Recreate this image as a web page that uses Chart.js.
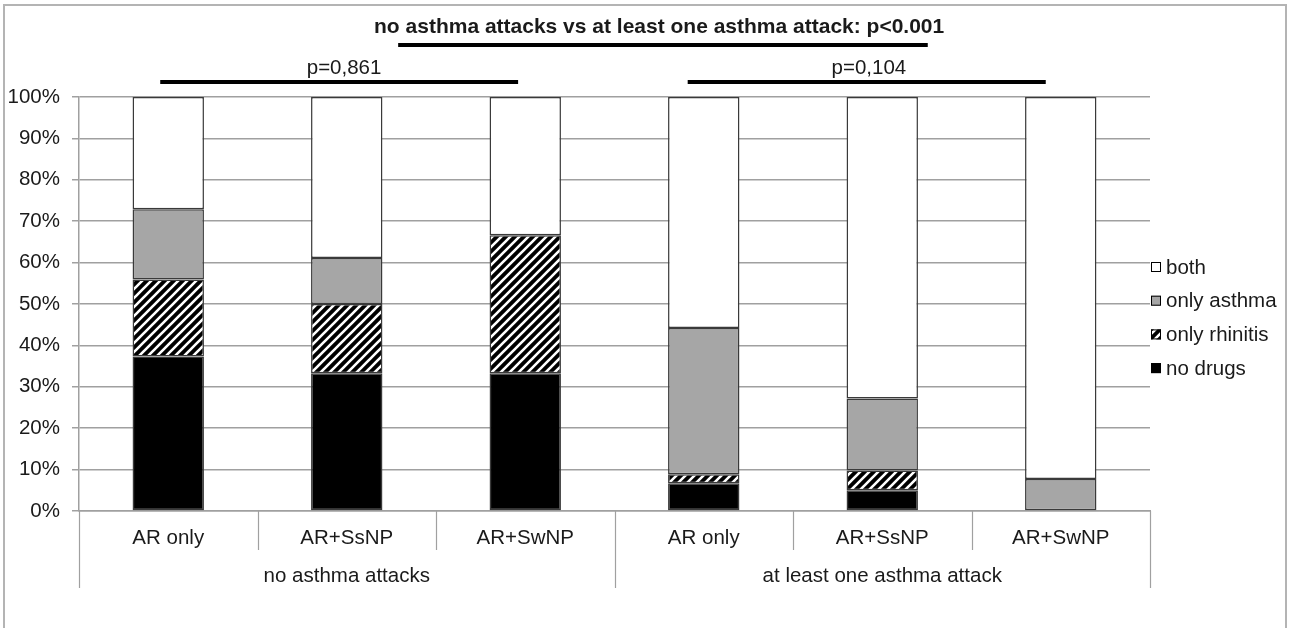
<!DOCTYPE html>
<html>
<head>
<meta charset="utf-8">
<script src="https://cdn.jsdelivr.net/npm/chart.js@4/dist/chart.umd.min.js"></script>
<style>
  html, body { margin: 0; padding: 0; background: #fff; }
  #wrap { width: 1290px; height: 628px; position: relative; }
</style>
</head>
<body>
<div id="wrap"><canvas id="chart"></canvas></div>
<script>
const categories = ['AR only', 'AR+SsNP', 'AR+SwNP', 'AR only', 'AR+SsNP', 'AR+SwNP'];
const groups = ['no asthma attacks', 'at least one asthma attack'];
const noDrugs = [37.3, 33.3, 33.3, 6.7, 5.0, 0];
const onlyRhinitis = [18.6, 16.7, 33.3, 2.2, 4.8, 0];
const onlyAsthma = [17.0, 11.1, 0, 35.3, 17.4, 7.7];
const both = [27.1, 38.9, 33.4, 55.8, 72.8, 92.3];
const yTicks = [0, 10, 20, 30, 40, 50, 60, 70, 80, 90, 100];

const FONT = "'Liberation Sans', Arial, sans-serif";
const TEXT = '#1a1a1a';
const GRID = '#a0a0a0';

// diagonal white stripes on black
function hatch() {
  const s = 9;
  const c = document.createElement('canvas');
  c.width = s; c.height = s;
  const g = c.getContext('2d');
  g.fillStyle = '#000';
  g.fillRect(0, 0, s, s);
  g.strokeStyle = '#fff';
  g.lineWidth = 2.6;
  g.beginPath();
  g.moveTo(-2, s + 2); g.lineTo(s + 2, -2);
  g.moveTo(-2, 2); g.lineTo(2, -2);
  g.moveTo(s - 2, s + 2); g.lineTo(s + 2, s - 2);
  g.stroke();
  return g.createPattern(c, 'repeat');
}
const stripes = hatch();

const barStyle = { borderColor: '#3a3a3a', borderWidth: 1.5, borderSkipped: false, barPercentage: 0.4, categoryPercentage: 1 };

const decorations = {
  id: 'decorations',
  afterDraw(chart) {
    const ctx = chart.ctx;
    const x = chart.scales.x;
    const area = chart.chartArea;
    const step = (area.right - area.left) / categories.length;
    const px = v => x.getPixelForValue(v);
    ctx.save();

    // outer frame
    ctx.strokeStyle = '#b4b4b4';
    ctx.lineWidth = 2;
    ctx.strokeRect(4, 5, 1282, 640);

    // category separators and group separators under the axis
    ctx.strokeStyle = GRID;
    ctx.lineWidth = 1.2;
    for (let i = 0; i <= categories.length; i++) {
      const lx = Math.round(area.left + i * step) + 0.5;
      const long = i % 3 === 0;
      ctx.beginPath();
      ctx.moveTo(lx, area.bottom);
      ctx.lineTo(lx, area.bottom + (long ? 77 : 39));
      ctx.stroke();
    }

    // group labels
    ctx.fillStyle = TEXT;
    ctx.font = '20.5px ' + FONT;
    ctx.textAlign = 'center';
    ctx.textBaseline = 'middle';
    groups.forEach((g, i) => {
      ctx.fillText(g, (px(i * 3) + px(i * 3 + 2)) / 2, area.bottom + 65);
    });

    // significance annotations
    ctx.font = 'bold 21px ' + FONT;
    ctx.fillText('no asthma attacks vs at least one asthma attack: p<0.001', px(2.75), 27);
    ctx.font = '20.5px ' + FONT;
    ctx.fillText('p=0,861', px(0.985), 68);
    ctx.fillText('p=0,104', px(3.925), 68);

    ctx.strokeStyle = '#000';
    ctx.lineWidth = 4;
    ctx.lineCap = 'butt';
    const seg = (a, b, y) => { ctx.beginPath(); ctx.moveTo(px(a), y); ctx.lineTo(px(b), y); ctx.stroke(); };
    seg(1.288, 4.255, 45);
    seg(-0.045, 1.96, 82);
    seg(2.91, 4.916, 82);

    // legend (top to bottom: reverse of stacking order)
    const items = chart.data.datasets.slice().reverse();
    ctx.textAlign = 'left';
    ctx.font = '20.5px ' + FONT;
    items.forEach((ds, i) => {
      const cy = 267 + i * 33.7;
      ctx.fillStyle = ds.backgroundColor;
      ctx.fillRect(1151, cy - 5, 10, 10);
      ctx.strokeStyle = '#000';
      ctx.lineWidth = 1;
      ctx.strokeRect(1151.5, cy - 4.5, 9, 9);
      ctx.fillStyle = TEXT;
      ctx.fillText(ds.label, 1166, cy + 1);
    });
    ctx.restore();
  }
};

new Chart(document.getElementById('chart'), {
  type: 'bar',
  data: {
    labels: categories,
    datasets: [
      { label: 'no drugs', data: noDrugs, backgroundColor: '#000000', ...barStyle },
      { label: 'only rhinitis', data: onlyRhinitis, backgroundColor: stripes, ...barStyle },
      { label: 'only asthma', data: onlyAsthma, backgroundColor: '#a6a6a6', ...barStyle },
      { label: 'both', data: both, backgroundColor: '#ffffff', ...barStyle }
    ]
  },
  options: {
    responsive: true,
    maintainAspectRatio: false,
    animation: false,
    devicePixelRatio: 1,
    layout: { padding: { top: 97, right: 140, bottom: 0, left: 0 } },
    plugins: {
      legend: { display: false },
      tooltip: { enabled: false }
    },
    scales: {
      x: {
        stacked: true,
        grid: { display: false },
        border: { display: true, color: GRID, width: 1.5 },
        ticks: { color: TEXT, font: { family: FONT, size: 20.5 }, padding: 7, maxRotation: 0 },
        afterFit: s => { s.height = 117; }
      },
      y: {
        stacked: true,
        min: 0,
        max: 100,
        afterBuildTicks: s => { s.ticks = yTicks.map(v => ({ value: v })); },
        afterFit: s => { s.width = 79; },
        grid: { color: GRID, lineWidth: 1.5, tickLength: 7 },
        border: { display: true, color: GRID, width: 1.5 },
        ticks: { color: TEXT, font: { family: FONT, size: 20.5 }, padding: 12, callback: v => v + '%' }
      }
    }
  },
  plugins: [decorations]
});
</script>
</body>
</html>
